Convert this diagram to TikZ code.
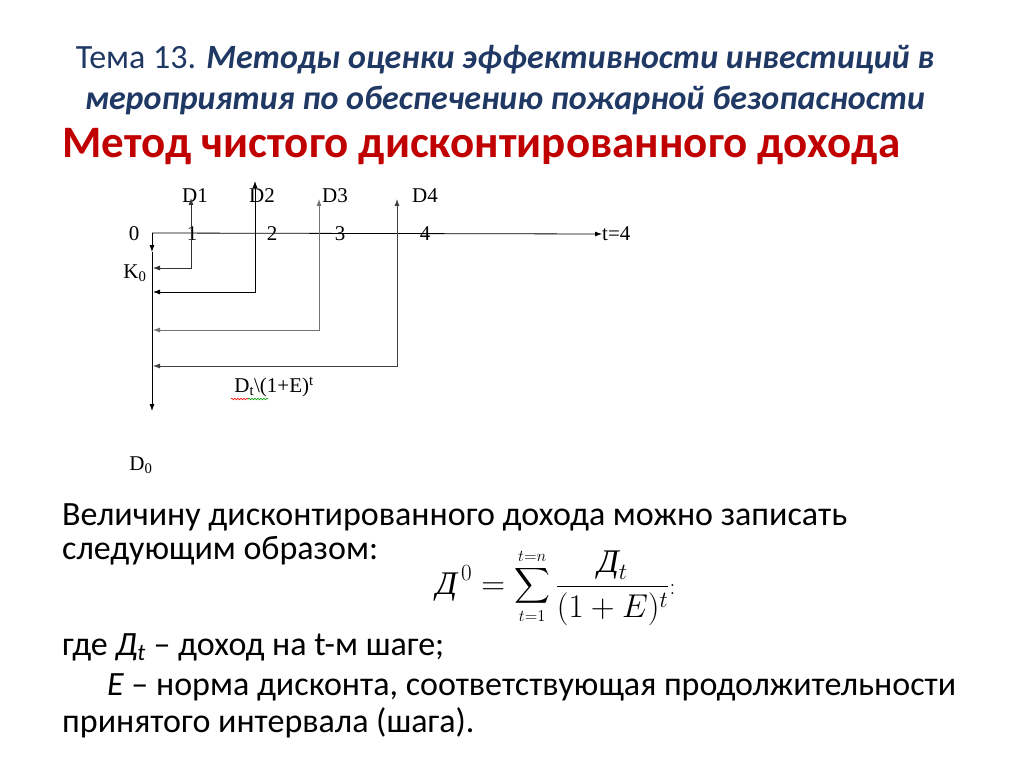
\documentclass[tikz,border=0pt]{standalone}
\usepackage{fix-cm}
\usepackage{exscale}
\usepackage[no-math]{fontspec}
\setmainfont{Carlito}
\newfontfamily\tnr{Liberation Serif}
\usetikzlibrary{arrows,arrows.meta,positioning,decorations.pathmorphing}
\definecolor{titleblue}{RGB}{31,56,100}
\definecolor{headred}{RGB}{192,0,0}
\tikzset{
  axis/.style={-{Latex[length=7pt,width=5pt]}, line width=0.8pt},
  flow/.style={{Latex[length=7pt,width=5pt]}-{Latex[length=7pt,width=5pt]}, line width=0.8pt},
  lbl/.style={font=\tnr\fontsize{21}{24}\selectfont, inner sep=0pt},
  body/.style={font=\fontsize{34}{40}\selectfont, anchor=west, inner sep=0pt},
  squiggle/.style={decorate, decoration={snake, amplitude=0.8pt, segment length=3pt}, line width=0.6pt},
}

\begin{document}
\begin{tikzpicture}[x=1pt, y=-1pt]
    \useasboundingbox[fill=white] (0,0) rectangle (1024,767);

    % заголовок
    \node[font=\fontsize{34}{40}\selectfont, text=titleblue, inner sep=0pt] (title1) at (505,60)
        {Тема 13. \textbf{\itshape Методы оценки эффективности инвестиций в}};
    \node[font=\fontsize{34}{40}\selectfont\bfseries\itshape, text=titleblue, inner sep=0pt] (title2) at (505,100)
        {мероприятия по обеспечению пожарной безопасности};
    \node[font=\fontsize{45}{52}\selectfont\bfseries, text=headred, anchor=west, inner sep=0pt] (head) at (62,147)
        {Метод чистого дисконтированного дохода};

    % оси
    \coordinate (o) at (152,233);
    \coordinate (k0) at (152,252);
    \coordinate (d0end) at (152,411);
    \node[lbl, anchor=west] (tlast) at (602,234) {t=4};
    \draw[axis] (o) -- (tlast.west);
    \draw[axis] (o) -- (k0);
    \draw[axis] (k0) -- (d0end);

    % шаги
    \node[lbl] (n0) at (134,234) {0};
    \node[lbl] (n1) at (192,234) {1};
    \node[lbl] (n2) at (272,234) {2};
    \node[lbl] (n3) at (340,234) {3};
    \node[lbl] (n4) at (425,234) {4};

    % доходы
    \node[lbl] (d1) at (195,196) {D1};
    \node[lbl] (d2) at (262,196) {D2};
    \node[lbl] (d3) at (335,196) {D3};
    \node[lbl] (d4) at (425,196) {D4};
    \foreach \x/\yb/\yt/\n/\c in {191/268/198/1/black!80, 255/292/181/2/black, 319/330/199/3/black!55, 397/366/199/4/black!75} {
        \coordinate (top\n) at (\x,\yt);
        \coordinate (in\n) at (153,\yb);
        \draw[flow, draw=\c] (top\n) |- (in\n);
    }

    % подписи
    \node[lbl] (k0lbl) at (135,273) {K\textsubscript{0}};
    \node[lbl] (disc) at (274,387) {D\textsubscript{t}\textbackslash(1+E)\textsuperscript{t}};
    \draw[squiggle, red] (231,399) -- (248,399);
    \draw[squiggle, green!60!black] (248,399) -- (268,399);
    \node[lbl] (d0) at (141,465) {D\textsubscript{0}};

    % текст
    \node[body] (txt1) at (62,517) {Величину дисконтированного дохода можно записать};
    \node[body] (txt2) at (62,551) {следующим образом:};
    \node[anchor=west, inner sep=0pt, font=\fontsize{33}{38}\selectfont] (sum) at (436,587)
        {$\displaystyle\mbox{\tnr\itshape Д}^{\,0}=\sum\limits_{\scriptscriptstyle t=1}^{\scriptscriptstyle t=n}\frac{\mbox{\tnr\itshape Д}_{t}}{(1+E)^{t}}{\scriptstyle :}$};
    \node[body] (txt3) at (62,647) {где {\itshape Д}\textsubscript{\itshape t} – доход на t-м шаге;};
    \node[body] (txt4) at (107,687) {{\itshape Е} – норма дисконта, соответствующая продолжительности};
    \node[body] (txt5) at (62,723) {принятого интервала (шага).};
\end{tikzpicture}
\end{document}
